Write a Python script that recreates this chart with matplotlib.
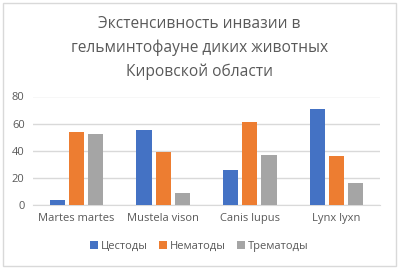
import matplotlib
matplotlib.use("Agg")
import matplotlib.pyplot as plt
import numpy as np
from matplotlib.patches import Rectangle

categories = ["Martes martes", "Mustela vison", "Canis lupus", "Lynx lyxn"]
series_names = ["Цестоды", "Нематоды", "Трематоды"]
cestodes = [3.5, 55.5, 26, 71]
nematodes = [54, 39, 61, 36]
trematodes = [52, 9, 37, 16]
yticks = [0, 20, 40, 60, 80]
title = "Экстенсивность инвазии в\nгельминтофауне диких животных\nКировской области"

colors = ["#4472C4", "#ED7D31", "#A5A5A5"]
txt = "#595959"
plt.rcParams['font.family'] = ['Open Sans', 'DejaVu Sans']

fig = plt.figure(figsize=(3.99, 2.69), dpi=100)
fig.patches.append(Rectangle((0.008, 0.012), 0.984, 0.976, transform=fig.transFigure,
                             fill=False, edgecolor="#D9D9D9", linewidth=1))
ax = fig.add_axes([33/399, 1-205/269, (380-33)/399, (205-96.5)/269])

x = np.arange(len(categories))
w = 0.175
off = 0.22
for i, (vals, name) in enumerate(zip([cestodes, nematodes, trematodes], series_names)):
    ax.bar(x + (i-1)*off, vals, width=w, color=colors[i], label=name, zorder=3)

ax.set_xlim(-0.5, len(categories)-0.5)
ax.set_ylim(0, 80)
ax.set_yticks(yticks)
ax.set_yticklabels([str(v) for v in yticks], fontsize=8, color=txt)
ax.set_xticks(x)
ax.set_xticklabels(categories, fontsize=8, color=txt)
ax.tick_params(length=0, pad=6)
ax.grid(axis='y', color="#D9D9D9", linewidth=1, zorder=0)
for s in ["top", "right", "left"]:
    ax.spines[s].set_visible(False)
ax.spines["bottom"].set_color("#D9D9D9")

fig.text(0.5, 1-48/269, title, ha='center', va='center', fontsize=11.2, color=txt,
         linespacing=1.58)

leg = fig.legend(loc='center', bbox_to_anchor=(0.5, 1-246/269), ncol=3, frameon=False,
                 fontsize=8, handlelength=0.7, handleheight=0.7, handletextpad=0.3,
                 columnspacing=1.0)
for t in leg.get_texts():
    t.set_color(txt)

fig.savefig("out.png", dpi=100)
